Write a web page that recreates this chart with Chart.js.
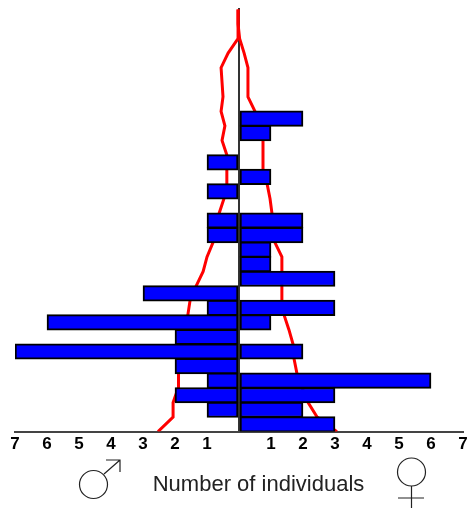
<!DOCTYPE html>
<html><head><meta charset="utf-8">
<style>html,body{margin:0;padding:0;background:#fff}canvas{display:block}</style>
<script src="https://cdn.jsdelivr.net/npm/chart.js@4"></script></head>
<body><canvas id="c" width="471" height="508"></canvas>
<script>
// Row 0 is the bottom bar; counts per row
const maleCounts   = [0,1,2,1,2,7,2,6,1,3,0,0,0,1,1,0,1,0,1,0,0,0];
const femaleCounts = [3,2,3,6,0,2,0,1,3,0,3,1,1,2,2,0,0,1,0,0,1,2];
// Red outline curves, one x per row boundary (0 = baseline, 29 = top)
const boundaries = [0,1,2,3,4,5,6,7,8,9,10,11,12,13,14,15,16,17,18,19,20,21,22,23,24,25,26,27,28,29];
const maleCurve = [-2.53,-2.06,-2.06,-1.9,-1.9,-1.88,-1.8,-1.75,-1.6,-1.53,-1.34,-1.12,-1.0,-0.81,-0.72,-0.62,-0.47,-0.38,-0.38,-0.38,-0.53,-0.44,-0.56,-0.5,-0.53,-0.56,-0.34,-0.03,-0.03,-0.03];
const femaleCurve = [3.06,2.44,2.16,1.97,1.81,1.72,1.69,1.56,1.41,1.34,1.34,1.34,1.34,1.12,1.03,1.03,0.97,0.88,0.75,0.75,0.75,0.72,0.5,0.28,0.28,0.28,0.16,0.02,-0.03,-0.03];
const axisLabel = "Number of individuals";

const toBars = (counts, sign) => counts
  .map((v, i) => ({x: sign * v, y: i + 0.5}))
  .filter(p => p.x !== 0);
const toCurve = xs => xs.map((x, i) => ({x, y: boundaries[i]}));

const symbols = {
  id: 'symbols',
  afterDraw(chart) {
    const c = chart.ctx;
    c.save();
    c.fillStyle = '#222';
    c.font = '22px "Liberation Sans"';
    c.textAlign = 'center';
    c.textBaseline = 'middle';
    c.fillText(axisLabel, 258.5, 484.5);
    c.strokeStyle = '#222';
    c.lineWidth = 1.2;
    // male sign
    c.beginPath(); c.arc(93.5, 484.5, 14, 0, Math.PI * 2); c.stroke();
    c.beginPath(); c.moveTo(104, 474); c.lineTo(120, 460);
    c.moveTo(106, 460); c.lineTo(120, 460); c.lineTo(120, 472); c.stroke();
    // female sign
    c.beginPath(); c.arc(411.5, 472, 14, 0, Math.PI * 2); c.stroke();
    c.beginPath(); c.moveTo(411.5, 486); c.lineTo(411.5, 508);
    c.moveTo(398, 498); c.lineTo(424, 498); c.stroke();
    c.restore();
  }
};

const barStyle = {backgroundColor: '#0000ff', borderColor: '#000', borderWidth: 2, barThickness: 15.5, grouped: false, order: 1, borderSkipped: false};
const curveStyle = {type: 'scatter', showLine: true, borderColor: '#ff0000', borderWidth: 3, pointRadius: 0, tension: 0, order: 2};

new Chart(document.getElementById('c'), {
  type: 'bar',
  data: {datasets: [
    {label: 'Male', data: toBars(maleCounts, -1), ...barStyle},
    {label: 'Female', data: toBars(femaleCounts, 1), ...barStyle},
    {label: 'Male curve', data: toCurve(maleCurve), ...curveStyle},
    {label: 'Female curve', data: toCurve(femaleCurve), ...curveStyle}
  ]},
  options: {
    indexAxis: 'y',
    responsive: false,
    animation: false,
    layout: {padding: {left: 15, right: 8, top: 8, bottom: 50}},
    plugins: {legend: {display: false}, tooltip: {enabled: false}},
    scales: {
      x: {
        type: 'linear', min: -7, max: 7,
        border: {color: '#444', width: 2},
        grid: {drawTicks: false, color: ctx => ctx.tick.value === 0 ? '#333' : 'transparent', lineWidth: 2},
        ticks: {
          stepSize: 1, padding: 3, maxRotation: 0, autoSkip: false, color: '#000',
          font: {family: '"Liberation Sans"', size: 17, weight: 'bold'},
          callback: v => v === 0 ? '' : String(Math.abs(v))
        }
      },
      y: {type: 'linear', min: 0, max: 29.1, offset: false, display: false, grid: {display: false, offset: false}}
    }
  },
  plugins: [symbols]
});
</script></body></html>
